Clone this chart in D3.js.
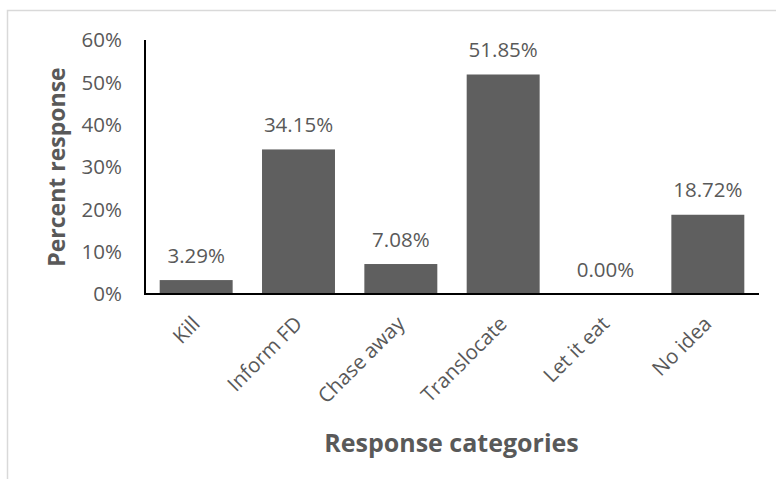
<!DOCTYPE html>
<html>
<head>
<meta charset="utf-8">
<script src="https://cdn.jsdelivr.net/npm/d3@7"></script>
<style>
  body { margin: 0; background: #fff; }
  text { font-family: "Open Sans", sans-serif; fill: #595959; }
</style>
</head>
<body>
<svg id="chart" width="776" height="479"></svg>
<script>
const categories = ['Kill', 'Inform FD', 'Chase away', 'Translocate', 'Let it eat', 'No idea']
const percentValues = [3.29, 34.15, 7.08, 51.85, 0.00, 18.72]
const yTicks = [0, 10, 20, 30, 40, 50, 60]

const width = 776
const height = 479
const margin = { top: 40, right: 17, bottom: 185, left: 145 }

const svg = d3.select('#chart')

// outer chart border (cropped on the right and bottom, like the picture)
svg.append('rect')
  .attr('x', 7.5)
  .attr('y', 10.5)
  .attr('width', 900)
  .attr('height', 600)
  .attr('fill', 'none')
  .attr('stroke', '#d9d9d9')
  .attr('stroke-width', 1.5)

const x = d3.scaleBand()
  .domain(categories)
  .range([margin.left, width - margin.right])
  .paddingInner(0.287)
  .paddingOuter(0.1435)

const y = d3.scaleLinear()
  .domain([0, 60])
  .range([height - margin.bottom, margin.top])

const data = categories.map((c, i) => ({ cat: c, val: percentValues[i] }))

// bars
svg.append('g')
  .selectAll('rect')
  .data(data)
  .join('rect')
  .attr('x', d => x(d.cat))
  .attr('y', d => y(d.val))
  .attr('width', x.bandwidth())
  .attr('height', d => y(0) - y(d.val))
  .attr('fill', '#5f5f5f')

// value labels
svg.append('g')
  .selectAll('text')
  .data(data)
  .join('text')
  .attr('x', d => x(d.cat) + x.bandwidth() / 2)
  .attr('y', d => y(d.val) - 17.5)
  .attr('text-anchor', 'middle')
  .style('font-size', '20.5px')
  .text(d => d.val.toFixed(2) + '%')

// y axis labels
svg.append('g')
  .selectAll('text')
  .data(yTicks)
  .join('text')
  .attr('x', 122)
  .attr('y', d => y(d))
  .attr('dy', '0.36em')
  .attr('text-anchor', 'end')
  .style('font-size', '20.5px')
  .text(d => d + '%')

// x category labels, rotated
svg.append('g')
  .selectAll('text')
  .data(categories)
  .join('text')
  .attr('transform', d => `translate(${x(d) + x.bandwidth() / 2},${y(0) + 26}) rotate(-45)`)
  .attr('dy', '0.35em')
  .attr('text-anchor', 'end')
  .style('font-size', '20.5px')
  .text(d => d)

// axis lines
svg.append('line')
  .attr('x1', margin.left).attr('x2', margin.left)
  .attr('y1', margin.top).attr('y2', y(0) + 1)
  .attr('stroke', '#000')
  .attr('stroke-width', 2)

svg.append('line')
  .attr('x1', margin.left - 1).attr('x2', width - margin.right)
  .attr('y1', y(0)).attr('y2', y(0))
  .attr('stroke', '#000')
  .attr('stroke-width', 2)

// axis titles
svg.append('text')
  .attr('transform', `translate(65,167) rotate(-90)`)
  .attr('text-anchor', 'middle')
  .style('font-size', '23px')
  .style('font-weight', 'bold')
  .text('Percent response')

svg.append('text')
  .attr('x', 451.5)
  .attr('y', 451.5)
  .attr('text-anchor', 'middle')
  .style('font-size', '25px')
  .style('font-weight', 'bold')
  .text('Response categories')
</script>
</body>
</html>
